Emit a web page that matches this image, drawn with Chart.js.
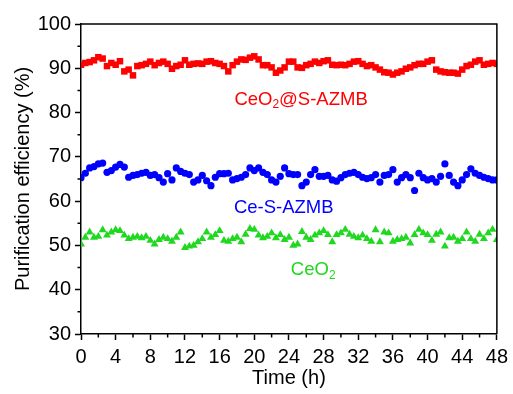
<!DOCTYPE html>
<html lang="en">
<head>
    <meta charset="UTF-8">
    <title>Purification efficiency</title>
    <style>
        html, body { margin: 0; padding: 0; background: #fff; }
        #wrap { width: 513px; height: 394px; }
    </style>
</head>
<body>

<div id="wrap">
    <canvas id="myChart" width="513" height="394"></canvas>
</div>

<script src="https://cdn.jsdelivr.net/npm/chart.js"></script>
<script>
    // sampling times (h)
    const hours = [
        0, 0.5, 1, 1.5, 2, 2.5, 3, 3.5, 4, 4.5, 5, 5.5, 6, 6.5, 7, 7.5,
        8, 8.5, 9, 9.5, 10, 10.5, 11, 11.5, 12, 12.5, 13, 13.5, 14, 14.5, 15, 15.5,
        16, 16.5, 17, 17.5, 18, 18.5, 19, 19.5, 20, 20.5, 21, 21.5, 22, 22.5, 23, 23.5,
        24, 24.5, 25, 25.5, 26, 26.5, 27, 27.5, 28, 28.5, 29, 29.5, 30, 30.5, 31, 31.5,
        32, 32.5, 33, 33.5, 34, 34.5, 35, 35.5, 36, 36.5, 37, 37.5, 38, 38.5, 39, 39.5,
        40, 40.5, 41, 41.5, 42, 42.5, 43, 43.5, 44, 44.5, 45, 45.5, 46, 46.5, 47, 47.5, 48
    ];

    // CeO2@S-AZMB
    const ceo2AzmbValues = [
        90.8, 91.2, 91.4, 91.8, 92.5, 92.2, 90.5, 91.2, 90.8, 91.6, 89.3, 89.7, 88.4, 90.5, 90.7, 91.0,
        91.5, 90.7, 91.2, 91.5, 91.0, 89.9, 90.5, 90.8, 91.8, 90.8, 91.0, 91.1, 91.0, 91.5, 91.6, 91.2,
        91.0, 90.5, 89.3, 90.7, 91.5, 92.0, 91.9, 92.4, 92.7, 92.0, 90.7, 90.7, 90.2, 89.0, 89.5, 90.2,
        91.5, 91.5, 90.2, 90.1, 90.7, 91.0, 91.5, 91.2, 91.6, 91.8, 90.8, 90.7, 90.8, 90.7, 91.0, 91.5,
        91.6, 91.0, 90.5, 90.7, 90.2, 89.7, 89.1, 89.0, 88.6, 89.0, 89.3, 89.9, 90.2, 90.7, 91.0, 91.0,
        91.5, 91.8, 89.7, 89.3, 89.1, 89.0, 89.0, 88.8, 89.7, 90.5, 90.8, 91.5, 91.8, 90.8, 91.0, 91.2, 91.0
    ];

    // Ce-S-AZMB
    const ceAzmbValues = [
        65.3, 66.3, 67.5, 67.8, 68.4, 68.6, 66.5, 66.9, 67.7, 68.3, 67.7, 65.4, 65.8, 66.0, 66.3, 66.5,
        65.8, 66.0, 65.3, 64.3, 66.2, 64.8, 67.5, 66.7, 66.3, 66.0, 64.3, 64.8, 65.8, 64.6, 63.5, 65.4,
        66.2, 66.2, 66.3, 64.8, 65.1, 65.4, 66.0, 67.5, 66.9, 67.5, 66.5, 66.0, 64.8, 64.3, 65.6, 67.5,
        66.2, 66.0, 66.0, 63.5, 64.3, 66.0, 67.1, 65.6, 65.6, 65.8, 64.8, 64.5, 65.3, 66.0, 66.3, 66.5,
        66.0, 65.4, 65.1, 65.3, 66.0, 64.3, 65.8, 66.0, 67.1, 64.3, 65.3, 66.0, 65.3, 62.4, 66.3, 65.3,
        64.8, 65.1, 64.3, 65.6, 68.4, 65.8, 64.3, 63.5, 64.8, 66.0, 67.3, 66.3, 65.8, 65.4, 65.1, 64.8, 64.8
    ];

    // CeO2
    const ceo2Values = [
        50.3, 51.8, 53.0, 51.8, 52.0, 53.5, 52.3, 53.0, 53.5, 53.3, 52.3, 51.5, 51.8, 52.0, 51.7, 52.0,
        51.1, 50.3, 51.3, 51.8, 51.5, 50.9, 51.8, 53.0, 49.5, 49.8, 50.0, 50.8, 51.5, 53.0, 51.8, 52.4,
        53.3, 51.1, 50.9, 51.5, 51.8, 50.8, 52.5, 53.8, 53.6, 52.3, 51.7, 52.0, 52.8, 51.7, 52.4, 51.3,
        51.8, 50.0, 50.3, 53.1, 51.8, 51.3, 52.3, 52.8, 53.3, 52.4, 50.8, 52.4, 52.8, 53.6, 52.5, 52.0,
        51.7, 52.3, 51.5, 50.9, 53.5, 50.8, 53.0, 52.8, 50.9, 51.3, 51.5, 51.8, 50.5, 52.4, 53.6, 52.8,
        52.4, 51.1, 52.5, 53.0, 49.8, 51.7, 51.8, 50.9, 51.5, 53.0, 51.5, 50.9, 52.5, 51.5, 52.8, 53.6, 51.3
    ];

    // in-plot series labels: [before subscript, subscript, after subscript]
    const labelParts = [["CeO", "2", "@S-AZMB"], ["Ce-S-AZMB", "", ""], ["CeO", "2", ""]];
    const labelX = [25.4, 23.4, 26.8];
    const labelY = [82.8, 58.4, 44.4];

    const colors = ["#ff0000", "#0000ff", "#1fd81f"];

    function toPoints(values) {
        return values.map((v, i) => ({x: hours[i], y: v}));
    }

    // minor ticks, top/right frame and series labels
    const decorations = {
        id: 'decorations',
        afterDraw(chart) {
            const ctx = chart.ctx;
            const area = chart.chartArea;
            const xs = chart.scales.x;
            const ys = chart.scales.y;

            ctx.save();
            ctx.strokeStyle = '#000';
            ctx.lineWidth = 1.5;
            ctx.beginPath();
            ctx.moveTo(area.left, area.top);
            ctx.lineTo(area.right, area.top);
            ctx.lineTo(area.right, area.bottom);
            ctx.stroke();

            ctx.beginPath();
            for (let v = 35; v < 100; v += 10) {
                const py = ys.getPixelForValue(v);
                ctx.moveTo(area.left, py);
                ctx.lineTo(area.left - 3.5, py);
            }
            for (let h = 2; h < 48; h += 4) {
                const px = xs.getPixelForValue(h);
                ctx.moveTo(px, area.bottom);
                ctx.lineTo(px, area.bottom + 3.5);
            }
            ctx.stroke();

            ctx.textBaseline = 'middle';
            ctx.textAlign = 'left';
            labelParts.forEach((parts, i) => {
                const big = '18.5px "Liberation Sans", Arial, sans-serif';
                const small = '12px "Liberation Sans", Arial, sans-serif';
                ctx.font = big;
                const w0 = ctx.measureText(parts[0]).width;
                const w2 = ctx.measureText(parts[2]).width;
                ctx.font = small;
                const w1 = ctx.measureText(parts[1]).width;
                const cx = xs.getPixelForValue(labelX[i]);
                const cy = ys.getPixelForValue(labelY[i]);
                let x = cx - (w0 + w1 + w2) / 2;
                ctx.fillStyle = colors[i];
                ctx.font = big;
                ctx.fillText(parts[0], x, cy);
                x += w0;
                ctx.font = small;
                ctx.fillText(parts[1], x, cy + 5);
                x += w1;
                ctx.font = big;
                ctx.fillText(parts[2], x, cy);
            });
            ctx.restore();
        }
    };

    function init() {
        Chart.defaults.font.family = '"Liberation Sans", Arial, sans-serif';
        Chart.defaults.color = '#000';

        let ctx = document.getElementById("myChart").getContext('2d');
        new Chart(ctx, {
            type: 'scatter',
            data: {
                datasets: [
                    {
                        label: 'CeO2@S-AZMB',
                        data: toPoints(ceo2AzmbValues),
                        pointStyle: 'rect',
                        pointRadius: 4.6,
                        backgroundColor: colors[0],
                        borderColor: colors[0],
                        borderWidth: 0,
                    },
                    {
                        label: 'Ce-S-AZMB',
                        data: toPoints(ceAzmbValues),
                        pointStyle: 'circle',
                        pointRadius: 3.6,
                        backgroundColor: colors[1],
                        borderColor: colors[1],
                        borderWidth: 0,
                    },
                    {
                        label: 'CeO2',
                        data: toPoints(ceo2Values),
                        pointStyle: 'triangle',
                        pointRadius: 4.6,
                        backgroundColor: colors[2],
                        borderColor: colors[2],
                        borderWidth: 0,
                    },
                ],
            },
            options: {
                responsive: false,
                animation: false,
                layout: {
                    padding: {top: 24, right: 10, left: 0, bottom: 0}
                },
                plugins: {
                    legend: {display: false},
                    tooltip: {enabled: false},
                },
                scales: {
                    x: {
                        type: 'linear',
                        min: 0,
                        max: 48,
                        afterFit(scale) { scale.height = 60; },
                        ticks: {
                            stepSize: 4,
                            padding: 5,
                            font: {size: 20},
                            color: '#000',
                        },
                        grid: {
                            drawOnChartArea: false,
                            drawTicks: true,
                            tickLength: 6,
                            tickWidth: 1.5,
                            tickColor: '#000',
                        },
                        border: {color: '#000', width: 1.5},
                        title: {
                            display: true,
                            text: 'Time (h)',
                            font: {size: 20},
                            color: '#000',
                            padding: {top: 0, bottom: 4},
                        },
                    },
                    y: {
                        min: 30,
                        max: 100,
                        afterFit(scale) { scale.width = 81; },
                        ticks: {
                            stepSize: 10,
                            padding: 4,
                            font: {size: 20},
                            color: '#000',
                        },
                        grid: {
                            drawOnChartArea: false,
                            drawTicks: true,
                            tickLength: 6,
                            tickWidth: 1.5,
                            tickColor: '#000',
                        },
                        border: {color: '#000', width: 1.5},
                        title: {
                            display: true,
                            text: 'Purification efficiency (%)',
                            font: {size: 20},
                            color: '#000',
                            padding: {top: 11, bottom: 0},
                        },
                    },
                },
            },
            plugins: [decorations]
        });
    }

    document.addEventListener('DOMContentLoaded', init);
</script>

</body>
</html>
